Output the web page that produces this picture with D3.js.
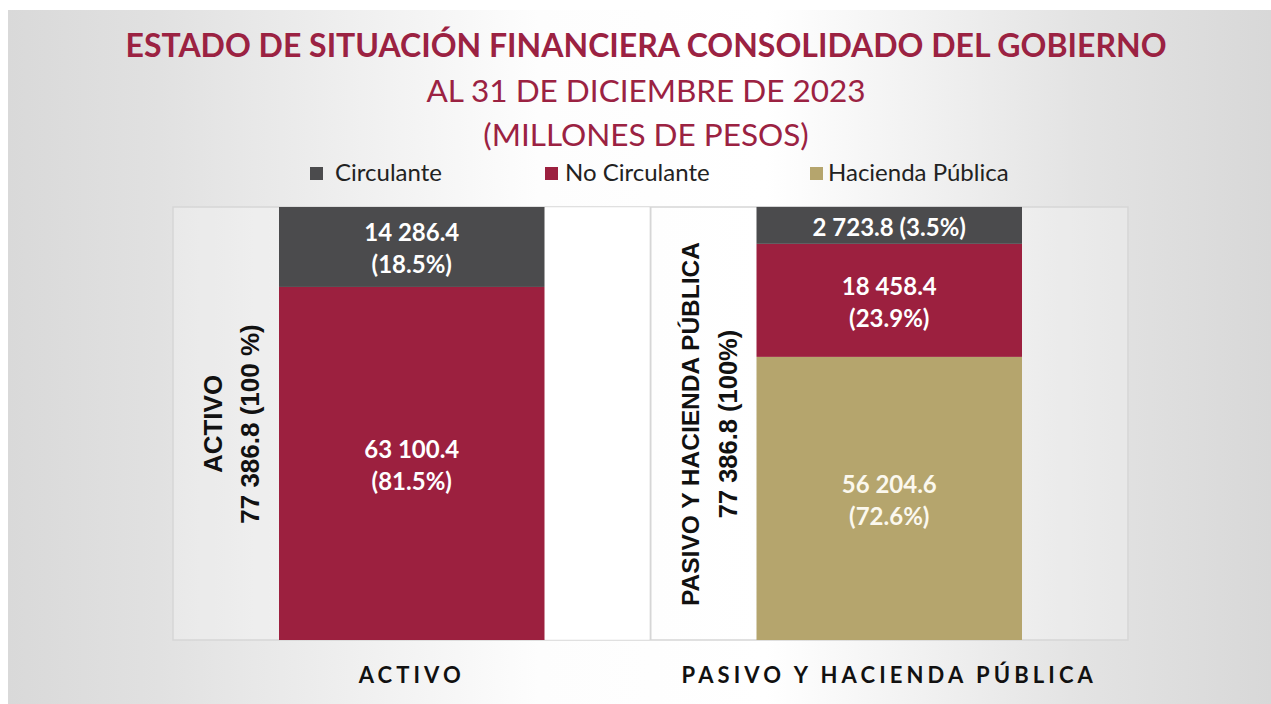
<!DOCTYPE html>
<html>
<head>
<meta charset="utf-8">
<script src="https://cdn.jsdelivr.net/npm/d3@7"></script>
<style>
  html, body { margin: 0; padding: 0; background: #fff; }
  svg { display: block; }
</style>
</head>
<body>
<svg id="chart" width="1271" height="704"></svg>
<script>
// categories and series
const categories = ['ACTIVO', 'PASIVO Y HACIENDA PÚBLICA']
const seriesNames = ['Circulante', 'No Circulante', 'Hacienda Pública']
const seriesColors = ['#4b4b4d', '#9c203f', '#b5a56d']

// drawn segment sizes (millones de pesos), per category
const circulante = [14286.4, 6600]
const noCirculante = [63100.4, 20200]
const haciendaPublica = [0, 50600]
const total = 77386.8

// segment labels as printed on the bars
const labelsCirculante = [['14 286.4', '(18.5%)'], ['2 723.8 (3.5%)']]
const labelsNoCirculante = [['63 100.4', '(81.5%)'], ['18 458.4', '(23.9%)']]
const labelsHacienda = [[], ['56 204.6', '(72.6%)']]

// side titles (rotated)
const sideTitles = [['ACTIVO', '77 386.8 (100 %)'], ['PASIVO Y HACIENDA PÚBLICA', '77 386.8 (100%)']]

const svg = d3.select('#chart')
const W = 1271
const H = 704

// background gradient
const defs = svg.append('defs')
const grad = defs.append('linearGradient').attr('id', 'bg').attr('x1', 0).attr('x2', 1).attr('y1', 0).attr('y2', 0)
grad.selectAll('stop')
  .data([[0, '#d9d9d9'], [0.12, '#e1e1e1'], [0.42, '#fdfdfd'], [0.6, '#ffffff'], [0.85, '#e3e3e3'], [1, '#d8d8d8']])
  .enter().append('stop')
  .attr('offset', d => d[0])
  .attr('stop-color', d => d[1])

svg.append('rect').attr('x', 8).attr('y', 10).attr('width', W - 8).attr('height', H - 10).attr('fill', 'url(#bg)')

// titles
const maroon = '#9b2242'
svg.append('text')
  .attr('x', 646).attr('y', 57)
  .attr('text-anchor', 'middle')
  .style('font', 'bold 32px Lato, "Open Sans", sans-serif')
  .style('fill', maroon)
  .text('ESTADO DE SITUACIÓN FINANCIERA CONSOLIDADO DEL GOBIERNO')

svg.append('text')
  .attr('x', 646).attr('y', 102)
  .attr('text-anchor', 'middle')
  .style('font', '31.5px Lato, "Open Sans", sans-serif')
  .style('fill', maroon)
  .text('AL 31 DE DICIEMBRE DE 2023')

svg.append('text')
  .attr('x', 646).attr('y', 146)
  .attr('text-anchor', 'middle')
  .style('font', '31.5px Lato, "Open Sans", sans-serif')
  .style('fill', maroon)
  .text('(MILLONES DE PESOS)')

// legend
const legendX = [310, 545, 810]
const legendGap = [25, 20, 18]
const legend = svg.append('g')
seriesNames.forEach((name, i) => {
  legend.append('rect')
    .attr('x', legendX[i]).attr('y', 167)
    .attr('width', 13).attr('height', 13)
    .attr('fill', seriesColors[i])
  legend.append('text')
    .attr('x', legendX[i] + legendGap[i]).attr('y', 181)
    .style('font', '24px Lato, "Open Sans", sans-serif')
    .style('fill', '#222')
    .text(name)
})

// plot area
const plot = { left: 173, right: 1128, top: 207, bottom: 640 }

svg.append('rect')
  .attr('x', plot.left).attr('y', plot.top)
  .attr('width', plot.right - plot.left).attr('height', plot.bottom - plot.top)
  .attr('fill', '#ffffff').attr('fill-opacity', 0.25)
  .attr('stroke', '#d6d6d6').attr('stroke-width', 1.5)

const x = d3.scaleBand()
  .domain(categories)
  .range([plot.left, plot.right])
  .paddingInner(0.444)
  .paddingOuter(0.222)

const y = d3.scaleLinear()
  .domain([0, total])
  .range([plot.bottom, plot.top])

// divider between categories
const midX = (x(categories[0]) + x.bandwidth() + x(categories[1])) / 2
svg.append('line')
  .attr('x1', midX).attr('x2', midX)
  .attr('y1', plot.top).attr('y2', plot.bottom)
  .attr('stroke', '#d6d6d6').attr('stroke-width', 2)

// white area right of first bar
svg.append('rect')
  .attr('x', x(categories[0]) + x.bandwidth()).attr('y', plot.top)
  .attr('width', midX - 1 - x(categories[0]) - x.bandwidth()).attr('height', plot.bottom - plot.top)
  .attr('fill', '#ffffff').attr('fill-opacity', 0.7)

// stacked data
const rows = categories.map((c, i) => ({
  cat: c,
  'Circulante': circulante[i],
  'No Circulante': noCirculante[i],
  'Hacienda Pública': haciendaPublica[i]
}))
// Circulante sits on top, so stack keys bottom-up in reverse
const stack = d3.stack().keys(seriesNames.slice().reverse())
const stacked = stack(rows)
const labelSets = { 'Circulante': labelsCirculante, 'No Circulante': labelsNoCirculante, 'Hacienda Pública': labelsHacienda }

const layers = svg.append('g').selectAll('g')
  .data(stacked)
  .enter().append('g')
  .attr('fill', d => seriesColors[seriesNames.indexOf(d.key)])

layers.selectAll('rect')
  .data(d => d.filter(s => s[1] - s[0] > 0))
  .enter().append('rect')
  .attr('x', d => x(d.data.cat))
  .attr('y', d => y(d[1]))
  .attr('width', x.bandwidth())
  .attr('height', d => y(d[0]) - y(d[1]))

// bar labels
stacked.forEach(layer => {
  layer.forEach((seg, i) => {
    const lines = labelSets[layer.key][i]
    if (!lines || !lines.length) return
    const cy = (y(seg[0]) + y(seg[1])) / 2 + 2
    const cx = x(seg.data.cat) + x.bandwidth() / 2
    lines.forEach((t, j) => {
      svg.append('text')
        .attr('x', cx)
        .attr('y', cy + (j - (lines.length - 1) / 2) * 32)
        .attr('dy', '0.35em')
        .attr('text-anchor', 'middle')
        .style('font', 'bold 24px Lato, "Open Sans", sans-serif')
        .style('fill', layer.key === 'Hacienda Pública' ? '#fbf8ee' : '#ffffff')
        .text(t)
    })
  })
})

// rotated side titles
const sideX = [[213, 250], [690, 728]]
const sideSize = [[26, 26], [24.5, 25.5]]
sideTitles.forEach((lines, i) => {
  lines.forEach((t, j) => {
    svg.append('text')
      .attr('transform', `translate(${sideX[i][j]},424) rotate(-90)`)
      .attr('dy', '0.35em')
      .attr('text-anchor', 'middle')
      .style('font', `bold ${sideSize[i][j]}px "Liberation Sans", Arial, sans-serif`)
      .style('fill', '#111')
      .text(t)
  })
})

// category axis
const xAxis = svg.append('g')
  .attr('transform', `translate(0,${plot.bottom})`)
  .call(d3.axisBottom(x).tickSize(0).tickPadding(27))
xAxis.select('.domain').remove()
xAxis.selectAll('text')
  .style('font', 'bold 22px Lato, "Open Sans", sans-serif')
  .style('letter-spacing', '4.1px')
  .style('fill', '#111')
</script>
</body>
</html>
